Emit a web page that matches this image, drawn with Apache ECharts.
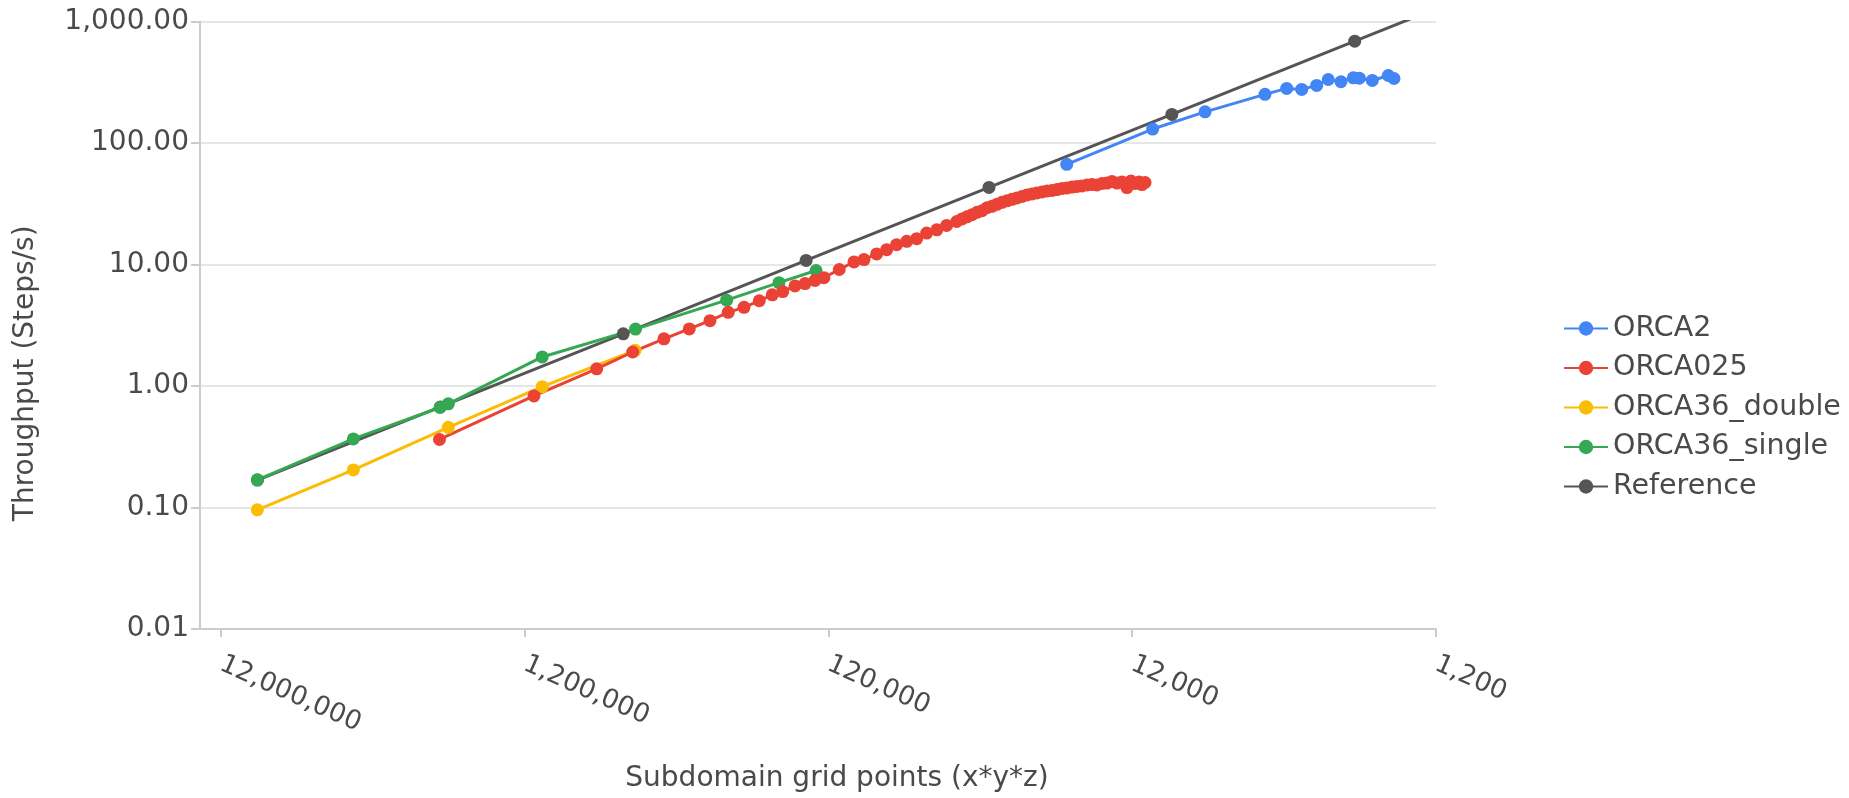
<!DOCTYPE html>
<html>
<head>
<meta charset="utf-8">
<script src="https://cdn.jsdelivr.net/npm/echarts@6.0.0/dist/echarts.min.js"></script>
<style>
html,body{margin:0;padding:0;background:#fff;}
#chart{width:1849px;height:798px;}
</style>
</head>
<body>
<div id="chart"></div>
<script>
const seriesNames = ['ORCA2', 'ORCA025', 'ORCA36_double', 'ORCA36_single', 'Reference'];
const xTicks = [12000000, 1200000, 120000, 12000, 1200];

const orca2X = [19720, 10280, 6910, 4387, 3722, 3321, 2965, 2716, 2466, 2246, 2146, 1945, 1723, 1650];
const orca2Y = [66.7, 130.3, 180.4, 251.5, 281.4, 276.2, 297.8, 333.3, 319.3, 344.1, 341.6, 327.1, 359.3, 339.6];

const orca025X = [2290000, 1119000, 695600, 529300, 417700, 344800, 294700, 256600, 227700, 202800,
  183800, 169800, 154700, 143400, 132900, 124200, 110600, 98900, 91700, 83300,
  77200, 71600, 66300, 61500, 57000, 52800, 49000, 45400,
  43620, 42000, 40440, 38940, 37490, 36090, 34750, 33460, 32210, 31010,
  29860, 28750, 27680, 26650, 25660, 24710, 23780, 22900, 22050, 21230,
  20440, 19680, 18950, 18250, 17570, 16910, 16280, 15680, 15100, 14530,
  13990, 13470, 12970, 12490, 12120, 11750, 11400, 11150, 10890];
const orca025Y = [0.363, 0.829, 1.384, 1.905, 2.445, 2.95, 3.45, 4.04, 4.44, 5.03,
  5.63, 5.99, 6.66, 6.96, 7.40, 7.79, 9.10, 10.5, 10.98, 12.23,
  13.25, 14.56, 15.52, 16.30, 18.14, 19.30, 20.96, 22.6,
  23.7, 24.7, 25.7, 26.9, 27.7, 29.3, 30.1, 31.3, 32.5, 33.4,
  34.4, 35.3, 36.3, 37.4, 38.1, 38.8, 39.5, 40.3, 40.7, 41.4,
  42.2, 42.6, 43.4, 43.9, 44.3, 45.1, 45.5, 45.1, 46.4, 46.8,
  48.2, 46.8, 47.7, 43.0, 48.6, 46.4, 47.7, 45.5, 47.3];

const orca36dX = [9110000, 4400000, 2142000, 1051000, 520000];
const orca36dY = [0.0956, 0.204, 0.457, 0.987, 1.966];

const orca36sX = [9110000, 4400000, 2282000, 2142000, 1051000, 518000, 259700, 174700, 131900];
const orca36sY = [0.169, 0.367, 0.665, 0.713, 1.734, 2.94, 5.09, 7.09, 8.93];

const refX = [9100000, 2275000, 568750, 142190, 35550, 8887, 2222, 555];
const refY = [0.168, 0.673, 2.69, 10.8, 43.1, 172, 689, 2757];

const colors = {
  'ORCA2': '#4285f4',
  'ORCA025': '#ea4335',
  'ORCA36_double': '#fbbc04',
  'ORCA36_single': '#34a853',
  'Reference': '#555555'
};

function pairs(xs, ys) { return xs.map((x, i) => [x, ys[i]]); }
const dataMap = {
  'ORCA2': pairs(orca2X, orca2Y),
  'ORCA025': pairs(orca025X, orca025Y),
  'ORCA36_double': pairs(orca36dX, orca36dY),
  'ORCA36_single': pairs(orca36sX, orca36sY),
  'Reference': pairs(refX, refY)
};

const FONT = 'DejaVu Sans';
const TXT = '#4a4a4a';

// first series drawn on top: add in reverse order
const series = seriesNames.slice().reverse().map(name => ({
  name: name,
  type: 'line',
  data: dataMap[name],
  symbol: 'circle',
  symbolSize: 13,
  showSymbol: true,
  lineStyle: { width: 3, color: colors[name] },
  itemStyle: { color: colors[name] },
  emphasis: { disabled: true },
  clip: true
}));

const chart = echarts.init(document.getElementById('chart'), null, { renderer: 'canvas' });
chart.setOption({
  animation: false,
  textStyle: { fontFamily: FONT },
  grid: { left: 200, right: 413, top: 21.5, bottom: 164, containLabel: false },
  legend: {
    data: seriesNames,
    orient: 'vertical',
    left: 1558,
    top: 309,
    itemWidth: 44,
    itemHeight: 18,
    itemGap: 10.5,
    textStyle: { fontSize: 28.5, color: TXT, fontFamily: FONT }
  },
  xAxis: {
    type: 'log',
    logBase: 10,
    inverse: true,
    min: 1200,
    max: 14070000,
    name: 'Subdomain grid points (x*y*z)',
    nameLocation: 'middle',
    nameGap: 136,
    nameTextStyle: { fontSize: 28, color: TXT, fontFamily: FONT, padding: [0, 0, 0, 38] },
    axisLine: { show: true, lineStyle: { color: '#cccccc', width: 2 } },
    axisTick: { show: true, length: 8, customValues: xTicks, lineStyle: { color: '#cccccc', width: 2 } },
    axisLabel: {
      customValues: xTicks,
      rotate: -24,
      margin: 34,
      fontSize: 26.5,
      color: TXT,
      fontFamily: FONT,
      formatter: v => Math.round(v).toLocaleString('en-US')
    },
    splitLine: { show: false },
    minorTick: { show: false }
  },
  yAxis: {
    type: 'log',
    logBase: 10,
    min: 0.01,
    max: 1000,
    name: 'Throughput (Steps/s)',
    nameLocation: 'middle',
    nameGap: 160,
    nameTextStyle: { fontSize: 28, color: TXT, fontFamily: FONT, padding: [0, 96, 0, 0] },
    axisLine: { show: true, lineStyle: { color: '#cccccc', width: 2 } },
    axisTick: { show: true, length: 9, lineStyle: { color: '#cccccc', width: 2 } },
    axisLabel: {
      margin: 11,
      fontSize: 28,
      color: TXT,
      fontFamily: FONT,
      formatter: v => Number(v).toLocaleString('en-US', { minimumFractionDigits: 2, maximumFractionDigits: 2 })
    },
    splitLine: { show: true, lineStyle: { color: '#e6e6e6', width: 2 } }
  },
  series: series
});
</script>
</body>
</html>
